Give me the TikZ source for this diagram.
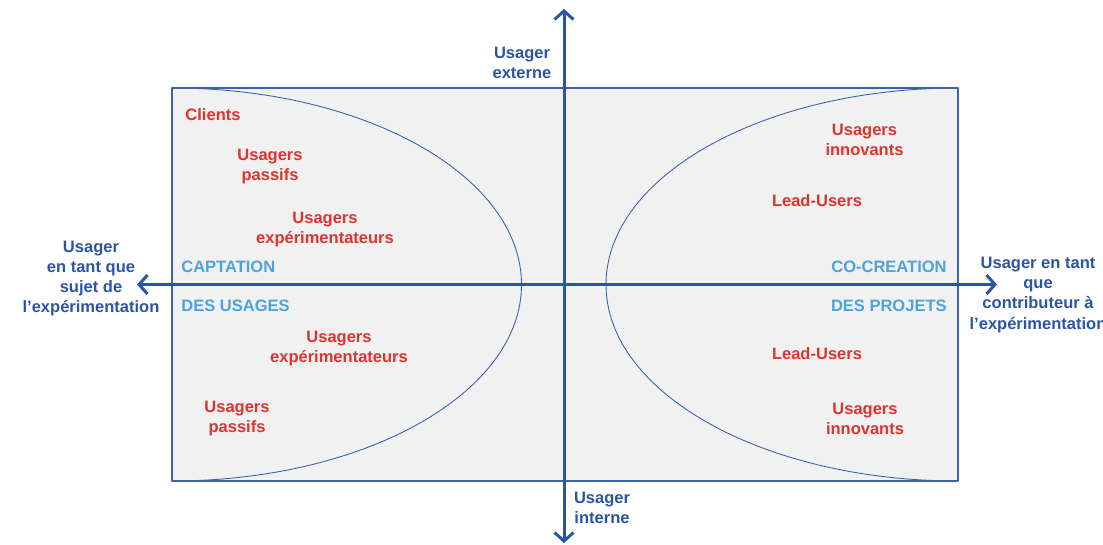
\documentclass[tikz,border=0pt]{standalone}
\usepackage{fontspec}
\setmainfont{Liberation Sans}
\usetikzlibrary{arrows.meta}
\definecolor{axeblue}{RGB}{43,84,166}
\definecolor{capblue}{RGB}{77,163,219}
\definecolor{usered}{RGB}{221,52,46}
\definecolor{boxfill}{RGB}{240,241,240}
\definecolor{boxline}{RGB}{58,98,172}
\begin{document}
\begin{tikzpicture}[line join=round,line cap=round,font=\fontsize{9.4}{11.4}\selectfont\bfseries,
	usager/.style={text=usered,align=center},
	zone/.style={text=capblue,inner sep=0pt},
	axe/.style={text=axeblue,align=center}]
	\useasboundingbox (0,0) rectangle (22.06,-10.88);
	\def\rx{6.99} % demi-axe de l'arc gauche
	\def\ry{3.93} % demi-hauteur du cadre
	\path
	(3.44,-1.76) coordinate (A)
	(19.16,-9.62) coordinate (C)
	(19.16,-1.76) coordinate (B)
	(2.74,-5.69) coordinate (W)
	(19.94,-5.69) coordinate (E)
	(11.28,-0.18) coordinate (N)
	(11.28,-10.86) coordinate (S);
	% cadre et arcs
	\draw[boxline,fill=boxfill,line width=0.7pt] (A) rectangle (C);
	\draw[boxline,line width=0.5pt] (A) arc [x radius=\rx, y radius=\ry, start angle=90, end angle=-90];
	\draw[boxline,line width=0.5pt] (B) arc [x radius=7.04, y radius=\ry, start angle=90, end angle=270];
	% axes
	\draw[axeblue,line width=1.7pt,{Straight Barb[length=1.7mm,width=3.8mm]}-{Straight Barb[length=1.7mm,width=3.8mm]}] (W)--(E);
	\draw[axeblue,line width=1.7pt,{Straight Barb[length=1.7mm,width=3.8mm]}-{Straight Barb[length=1.7mm,width=3.8mm]}] (S)--(N);
	% textes des axes
	\node[axe] (ext) at (10.44,-1.26) {Usager\\externe};
	\node[axe] (int) at (12.04,-10.16) {Usager\\interne};
	\node[axe] (sujet) at (1.82,-5.57) {Usager\\en tant que\\sujet de\\l’expérimentation};
	\node[axe] (contrib) at (20.76,-5.90) {Usager en tant\\que\\contributeur à\\l’expérimentation};
	% zones
	\node[zone,anchor=west] (capt) at (3.62,-5.34) {CAPTATION};
	\node[zone,anchor=west] (desus) at (3.62,-6.12) {DES USAGES};
	\node[zone,anchor=east] (cocr) at (18.94,-5.34) {CO-CREATION};
	\node[zone,anchor=east] (despr) at (18.94,-6.12) {DES PROJETS};
	% usagers
	\node[usager] (cli) at (4.26,-2.30) {Clients};
	\node[usager] (pas1) at (5.40,-3.34) {Usagers\\passifs};
	\node[usager] (exp1) at (6.50,-4.60) {Usagers\\expérimentateurs};
	\node[usager] (exp2) at (6.78,-6.98) {Usagers\\expérimentateurs};
	\node[usager] (pas2) at (4.74,-8.37) {Usagers\\passifs};
	\node[usager] (inn1) at (17.29,-2.80) {Usagers\\innovants};
	\node[usager] (lead1) at (16.34,-4.02) {Lead-Users};
	\node[usager] (lead2) at (16.34,-7.08) {Lead-Users};
	\node[usager] (inn2) at (17.30,-8.37) {Usagers\\innovants};
\end{tikzpicture}
\end{document}
